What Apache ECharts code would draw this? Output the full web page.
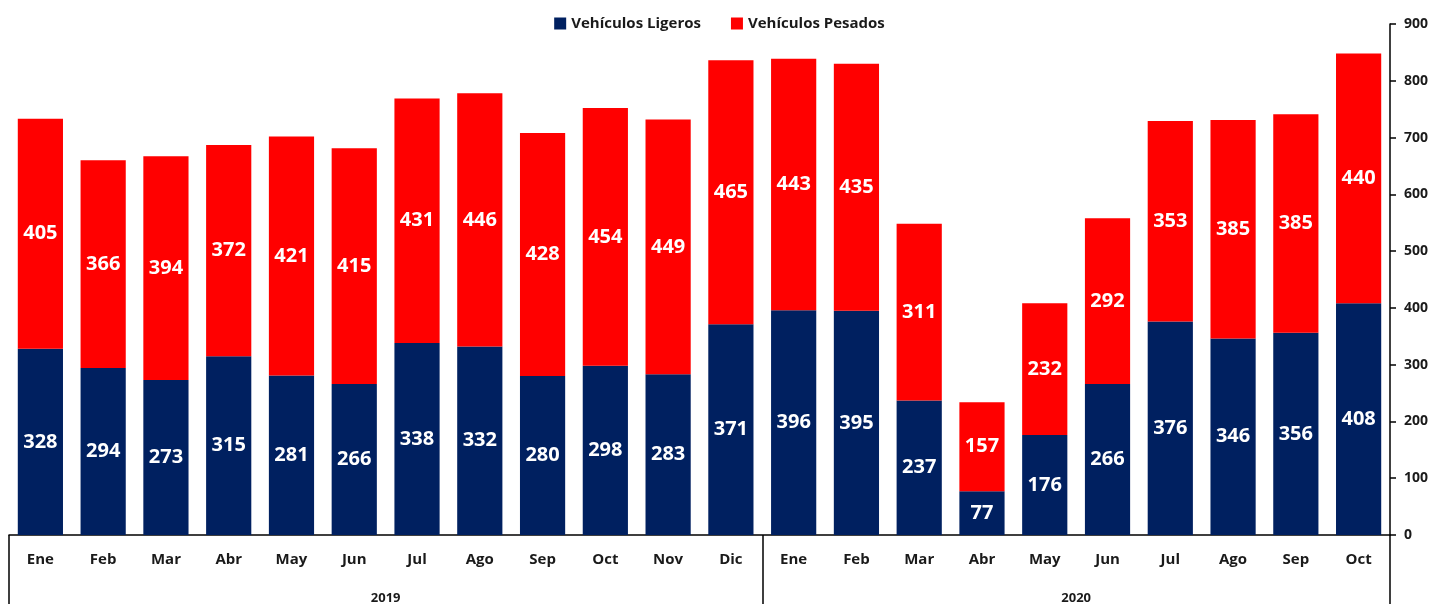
<!DOCTYPE html>
<html>
<head>
<meta charset="utf-8">
<script src="https://cdn.jsdelivr.net/npm/echarts@6/dist/echarts.min.js"></script>
<style>
  html, body { margin: 0; padding: 0; background: #fff; }
  #box { width: 1439px; height: 604px; }
</style>
</head>
<body>
<div id="box"></div>
<script>
var months = ["Ene", "Feb", "Mar", "Abr", "May", "Jun", "Jul", "Ago", "Sep", "Oct", "Nov", "Dic",
              "Ene", "Feb", "Mar", "Abr", "May", "Jun", "Jul", "Ago", "Sep", "Oct"];
var years = ["2019", "2020"];
var yearCenters = [6, 17];      // middle of each year's block of months
var yearBounds = [0, 12, 22];   // separators between years
var ligeros = [328, 294, 273, 315, 281, 266, 338, 332, 280, 298, 283, 371,
               396, 395, 237, 77, 176, 266, 376, 346, 356, 408];
var pesados = [405, 366, 394, 372, 421, 415, 431, 446, 428, 454, 449, 465,
               443, 435, 311, 157, 232, 292, 353, 385, 385, 440];

var font = "'Open Sans', sans-serif";
var myChart = echarts.init(document.getElementById("box"));

function barLabel() {
  return {
    show: true,
    position: "inside",
    color: "#fff",
    fontFamily: font,
    fontWeight: "bold",
    fontSize: 20
  };
}

var option = {
  animation: false,
  legend: {
    top: 11,
    left: "center",
    itemWidth: 12,
    itemHeight: 12,
    itemGap: 30,
    icon: "rect",
    textStyle: { fontFamily: font, fontWeight: "bold", fontSize: 15, color: "#1a1a1a" },
    data: ["Vehículos Ligeros", "Vehículos Pesados"]
  },
  grid: { left: 9, right: 49, top: 24, bottom: 69, outerBoundsMode: "none", containLabel: false },
  xAxis: [
    {
      type: "category",
      data: months,
      axisLine: { onZero: false, lineStyle: { color: "#000", width: 1.5 } },
      axisTick: { show: false },
      axisLabel: { margin: 17, color: "#1a1a1a", fontFamily: font, fontWeight: "bold", fontSize: 15 }
    },
    {
      type: "value",
      position: "bottom",
      min: 0,
      max: 22,
      axisLine: { show: false, onZero: false },
      splitLine: { show: false },
      axisTick: {
        show: true,
        customValues: yearBounds,
        length: 75,
        lineStyle: { color: "#000", width: 1.5 }
      },
      axisLabel: {
        customValues: yearCenters,
        margin: 57,
        color: "#1a1a1a",
        fontFamily: font,
        fontWeight: "bold",
        fontSize: 13,
        formatter: function (v) {
          return years[yearCenters.indexOf(v)] || "";
        }
      }
    }
  ],
  yAxis: {
    type: "value",
    position: "right",
    min: 0,
    max: 900,
    interval: 100,
    splitLine: { show: false },
    axisLine: { show: true, onZero: false, lineStyle: { color: "#000", width: 1.5 } },
    axisTick: { show: true, length: 6, lineStyle: { color: "#000", width: 1.5 } },
    axisLabel: { margin: 14, color: "#1a1a1a", fontFamily: font, fontWeight: "bold", fontSize: 14 }
  },
  series: [
    {
      name: "Vehículos Ligeros",
      type: "bar",
      stack: "total",
      barCategoryGap: "28%",
      itemStyle: { color: "#002060" },
      label: barLabel(),
      data: ligeros
    },
    {
      name: "Vehículos Pesados",
      type: "bar",
      stack: "total",
      barCategoryGap: "28%",
      itemStyle: { color: "#ff0000" },
      label: barLabel(),
      data: pesados
    }
  ]
};
myChart.setOption(option);
</script>
</body>
</html>
